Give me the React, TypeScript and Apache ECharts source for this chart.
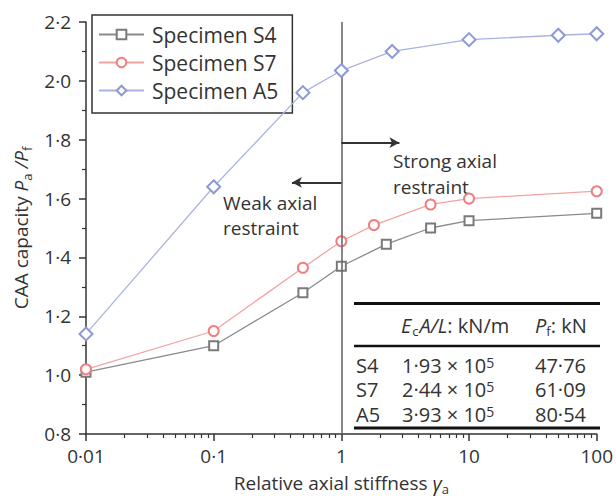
import React, { useEffect, useRef } from "react";
import * as echarts from "echarts";

const FONT = "'Open Sans', 'Noto Sans', sans-serif";
const TXT = "#333333";

// Data
const seriesNames = ["Specimen S4", "Specimen S7", "Specimen A5"];
const s4X = [0.01, 0.1, 0.5, 1, 2.25, 5, 10, 100];
const s4Y = [1.01, 1.10, 1.28, 1.37, 1.445, 1.50, 1.525, 1.55];
const s7X = [0.01, 0.1, 0.5, 1, 1.8, 5, 10, 100];
const s7Y = [1.02, 1.15, 1.365, 1.455, 1.51, 1.58, 1.60, 1.625];
const a5X = [0.01, 0.1, 0.5, 1, 2.5, 10, 50, 100];
const a5Y = [1.14, 1.64, 1.96, 2.035, 2.10, 2.14, 2.155, 2.16];

const minorXTicks = [
  0.02, 0.03, 0.04, 0.05, 0.06, 0.07, 0.08, 0.09,
  0.2, 0.3, 0.4, 0.5, 0.6, 0.7, 0.8, 0.9,
  2, 3, 4, 5, 6, 7, 8, 9,
  20, 30, 40, 50, 60, 70, 80, 90,
];

// Table
const tableNames = ["S4", "S7", "A5"];
const tableStiff = ["1·93", "2·44", "3·93"];
const tablePf = ["47·76", "61·09", "80·54"];

// Annotation arrows (data coords)
const strongArrow = { y: 1.79, from: 1, to: 2.85 };
const weakArrow = { y: 1.655, from: 1, to: 0.41 };

const zip = (xs: number[], ys: number[]) => xs.map((x, i) => [x, ys[i]]);
const dot = (s: string) => s.replace(".", "·");

export default function App() {
  const ref = useRef<HTMLDivElement>(null);
  useEffect(() => {
    document.body.style.margin = "0";
    const chart = echarts.init(ref.current!, undefined, { renderer: "svg" });

    const tFont = 20;
    const rowYs = [365, 389.5, 414];
    const subStyle = { fontSize: 13, fontFamily: FONT, fill: TXT, verticalAlign: "bottom", lineHeight: 12 };
    const tableGraphics: any[] = [
      { type: "line", shape: { x1: 354, y1: 303.5, x2: 600, y2: 303.5 }, style: { stroke: "#111", lineWidth: 3 } },
      { type: "line", shape: { x1: 354, y1: 346, x2: 600, y2: 346 }, style: { stroke: "#111", lineWidth: 2.5 } },
      { type: "line", shape: { x1: 354, y1: 428, x2: 600, y2: 428 }, style: { stroke: "#111", lineWidth: 3 } },
      {
        type: "text", x: 401, y: 325,
        style: {
          text: "{i|E}{sub|c}{i|A/L}{n|: kN/m}",
          verticalAlign: "middle",
          rich: {
            i: { fontStyle: "italic", fontSize: 20, fontFamily: FONT, fill: TXT, lineHeight: 24 },
            n: { fontSize: 20, fontFamily: FONT, fill: TXT, lineHeight: 24 },
            sub: { ...subStyle, padding: [0, 1, 0, 1] },
          },
        },
      },
      {
        type: "text", x: 535, y: 325,
        style: {
          text: "{i|P}{sub|f}{n|: kN}",
          verticalAlign: "middle",
          rich: {
            i: { fontStyle: "italic", fontSize: 20, fontFamily: FONT, fill: TXT, lineHeight: 24 },
            n: { fontSize: 20, fontFamily: FONT, fill: TXT, lineHeight: 24 },
            sub: subStyle,
          },
        },
      },
    ];
    tableNames.forEach((nm, i) => {
      tableGraphics.push({
        type: "text", x: 356, y: rowYs[i],
        style: { text: nm, font: `${tFont}px ${FONT}`, fill: TXT, verticalAlign: "middle" },
      });
      tableGraphics.push({
        type: "text", x: 402, y: rowYs[i],
        style: {
          text: `{n|${tableStiff[i]} × 10}{sup|5}`,
          verticalAlign: "middle",
          rich: {
            n: { fontSize: tFont, fontFamily: FONT, fill: TXT, lineHeight: 20 },
            sup: { fontSize: 14, fontFamily: FONT, fill: TXT, verticalAlign: "top", lineHeight: 10 },
          },
        },
      });
      tableGraphics.push({
        type: "text", x: 535, y: rowYs[i],
        style: { text: tablePf[i], font: `${tFont}px ${FONT}`, fill: TXT, verticalAlign: "middle" },
      });
    });

    const option: any = {
      animation: false,
      backgroundColor: "#ffffff",
      textStyle: { fontFamily: FONT },
      grid: { left: 86, right: 18, top: 22, bottom: 62, containLabel: false },
      legend: {
        orient: "vertical",
        left: 92,
        top: 15,
        padding: [9, 14, 12, 6],
        itemGap: 7,
        itemWidth: 45,
        itemHeight: 12,
        borderColor: "#333",
        borderWidth: 1.5,
        selectedMode: false,
        textStyle: { fontSize: 21, color: TXT, fontFamily: FONT, lineHeight: 21, padding: [0, 0, 0, 3] },
        data: seriesNames,
      },
      xAxis: [
        {
          type: "log",
          logBase: 10,
          min: 0.01,
          max: 100,
          name: "Relative axial stiffness {i|γ}{sub|a}",
          nameLocation: "middle",
          nameGap: 37,
          nameTextStyle: {
            fontSize: 19, color: TXT, fontFamily: FONT,
            rich: {
              i: { fontStyle: "italic", fontSize: 20, fontFamily: FONT, color: TXT, lineHeight: 24 },
              sub: { fontSize: 13, fontFamily: FONT, color: TXT, verticalAlign: "bottom", lineHeight: 14 },
            },
          },
          axisLine: { show: true, lineStyle: { color: "#333", width: 1.5 } },
          axisTick: { show: true, length: 7, lineStyle: { color: "#333", width: 1.5 } },
          axisLabel: {
            fontSize: 19, color: TXT, fontFamily: FONT, margin: 12,
            formatter: (v: number) => dot(String(v)),
          },
          splitLine: { show: false },
        },
        {
          type: "log",
          logBase: 10,
          min: 0.01,
          max: 100,
          position: "bottom",
          axisLine: { show: false },
          axisTick: { show: true, length: 4, customValues: minorXTicks, lineStyle: { color: "#333", width: 1.2 } },
          axisLabel: { show: false },
          splitLine: { show: false },
        },
      ],
      yAxis: {
        type: "value",
        min: 0.8,
        max: 2.2,
        interval: 0.2,
        name: "CAA capacity {i|P}{sub|a}{i| /P}{sub|f}",
        nameLocation: "middle",
        nameGap: 52,
        nameTextStyle: {
          fontSize: 19, color: TXT, fontFamily: FONT,
          rich: {
            i: { fontStyle: "italic", fontSize: 19, fontFamily: FONT, color: TXT, lineHeight: 24 },
            sub: { fontSize: 13, fontFamily: FONT, color: TXT, verticalAlign: "bottom", lineHeight: 14 },
          },
        },
        axisLine: { show: true, lineStyle: { color: "#333", width: 1.5 } },
        axisTick: { show: true, length: 7, lineStyle: { color: "#333", width: 1.5 } },
        minorTick: { show: true, splitNumber: 2, length: 4, lineStyle: { color: "#333", width: 1.2 } },
        axisLabel: {
          fontSize: 19, color: TXT, fontFamily: FONT, margin: 15,
          formatter: (v: number) => dot(v.toFixed(1)),
        },
        splitLine: { show: false },
      },
      series: [
        {
          name: seriesNames[0],
          type: "line",
          data: zip(s4X, s4Y),
          symbol: "emptyRect",
          symbolSize: 9,
          lineStyle: { color: "#8a8a8a", width: 1.3 },
          itemStyle: { color: "#7a7a7a", borderWidth: 1.4 },
          z: 3,
          markLine: {
            silent: true,
            symbol: "none",
            label: { show: false },
            lineStyle: { color: "#6a6a6a", width: 1.6, type: "solid" },
            data: [{ xAxis: 1 }],
          },
        },
        {
          name: seriesNames[1],
          type: "line",
          data: zip(s7X, s7Y),
          symbol: "emptyCircle",
          symbolSize: 10,
          lineStyle: { color: "#f4a3a3", width: 1.3 },
          itemStyle: { color: "#ef8080", borderWidth: 1.4 },
          z: 4,
        },
        {
          name: seriesNames[2],
          type: "line",
          data: zip(a5X, a5Y),
          symbol: "emptyDiamond",
          symbolSize: 13,
          lineStyle: { color: "#aab3e3", width: 1.3 },
          itemStyle: { color: "#8d99d6", borderWidth: 1.4 },
          z: 5,
          markLine: {
            silent: true,
            label: { show: false },
            symbolSize: [8, 10],
            lineStyle: { color: "#333", width: 2, type: "solid" },
            data: [
              [
                { coord: [strongArrow.from, strongArrow.y], symbol: "none" },
                { coord: [strongArrow.to, strongArrow.y], symbol: "arrow" },
              ],
              [
                { coord: [weakArrow.from, weakArrow.y], symbol: "none" },
                { coord: [weakArrow.to, weakArrow.y], symbol: "arrow" },
              ],
            ],
          },
        },
      ],
      graphic: [
        {
          type: "text", x: 393, y: 161,
          style: { text: "Strong axial", font: `19px ${FONT}`, fill: TXT, verticalAlign: "middle" },
        },
        {
          type: "text", x: 393, y: 187,
          style: { text: "restraint", font: `19px ${FONT}`, fill: TXT, verticalAlign: "middle" },
        },
        {
          type: "text", x: 223, y: 203,
          style: { text: "Weak axial", font: `19px ${FONT}`, fill: TXT, verticalAlign: "middle" },
        },
        {
          type: "text", x: 223, y: 228,
          style: { text: "restraint", font: `19px ${FONT}`, fill: TXT, verticalAlign: "middle" },
        },
        ...tableGraphics,
      ],
    };
    chart.setOption(option);
    return () => chart.dispose();
  }, []);
  return <div ref={ref} style={{ width: 616, height: 500 }} />;
}
